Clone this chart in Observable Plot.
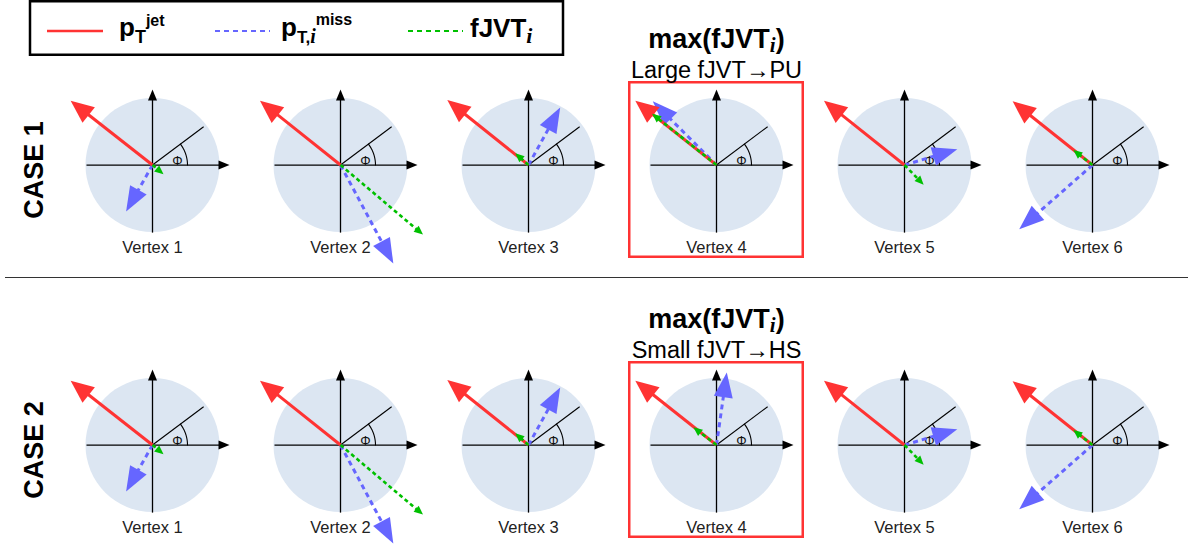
<!DOCTYPE html>
<html><head><meta charset="utf-8">
<script src="https://cdn.jsdelivr.net/npm/d3@7"></script>
<script src="https://cdn.jsdelivr.net/npm/@observablehq/plot@0.6"></script>
<style>body{margin:0;background:#fff} #chart{width:1188px;height:547px}</style>
</head><body><div id="chart"></div>
<script>
// ---------------- data ----------------
const vertexLabels = ["Vertex 1","Vertex 2","Vertex 3","Vertex 4","Vertex 5","Vertex 6"];
const caseLabels = ["CASE 1","CASE 2"];
// vectors in units of the circle radius (x to the right, y upwards), one entry per vertex
const jetX   = [-1.24, -1.22, -1.23, -1.23, -1.22, -1.21];
const jetY   = [ 0.98,  0.98,  0.99,  0.98,  0.98,  0.97];
const missX1 = [-0.40,  0.80,  0.48, -0.965, 0.80, -1.11];
const missY1 = [-0.71, -1.50,  0.875, 0.97,  0.24, -0.98];
const fjvtX1 = [ 0.167, 1.25, -0.20, -0.975, 0.29, -0.29];
const fjvtY1 = [-0.141,-1.06,  0.18,  0.78, -0.30,  0.23];
const missX2 = [-0.40,  0.80,  0.48,  0.156, 0.80, -1.11];
const missY2 = [-0.71, -1.50,  0.875, 1.106, 0.24, -0.98];
const fjvtX2 = [ 0.167, 1.25, -0.20, -0.35,  0.29, -0.29];
const fjvtY2 = [-0.141,-1.06,  0.18,  0.27, -0.30,  0.23];
const selectedVertex = 4;
const titleText = "max(fJVTi)";
const subtitles = ["Large fJVT\u2192PU", "Small fJVT\u2192HS"];
const phiLabel = "\u03A6";
const phiDeg = 37;
const legendNames = ["jet", "miss", "fjvt"];

// ---------------- styles / layout ----------------
const RED = "#ff3333", BLUE = "#6666ff", GREEN = "#00c000", DISC = "#dce6f2";
const W = 1188, H = 547;
const mL = 63, mR = 7, mT = 80, mB = 8;
const PX = 66; // pixels per unit
const xDom = [-88 / PX, 88 / PX];
const yDom = [-94 / PX, 84 / PX];
const heads = {jet: [23, 20], miss: [25, 19], fjvt: [9, 8], axis: [11, 9]};
function headSymbol(L, Wd) {
  return {draw(ctx) { ctx.moveTo(0, 0); ctx.lineTo(Wd / 2, L); ctx.lineTo(-Wd / 2, L); ctx.closePath(); }};
}

const panels = [];
caseLabels.forEach((cl, ci) => vertexLabels.forEach((vl, vi) => panels.push({c: ci + 1, v: vi + 1, vertex: vl, caseLabel: cl})));

const vectors = [];
const series = {1: {miss: [missX1, missY1], fjvt: [fjvtX1, fjvtY1]}, 2: {miss: [missX2, missY2], fjvt: [fjvtX2, fjvtY2]}};
for (const p of panels) {
  const i = p.v - 1;
  const comps = {jet: [jetX[i], jetY[i]], miss: [series[p.c].miss[0][i], series[p.c].miss[1][i]], fjvt: [series[p.c].fjvt[0][i], series[p.c].fjvt[1][i]]};
  for (const k of legendNames) {
    const [dx, dy] = comps[k];
    const len = Math.hypot(dx, dy);
    const back = heads[k][0] / PX;
    vectors.push({c: p.c, v: p.v, kind: k, dx, dy,
      sx: dx - back * 0.9 * dx / len, sy: dy - back * 0.9 * dy / len,
      rot: Math.atan2(dx, dy) * 180 / Math.PI});
  }
}
const arcPts = [];
for (const p of panels) for (let a = 0; a <= phiDeg; a += 1) arcPts.push({c: p.c, v: p.v, key: p.c + "-" + p.v, x: 0.53 * Math.cos(a * Math.PI / 180), y: 0.53 * Math.sin(a * Math.PI / 180)});
const sel = panels.filter(p => p.v === selectedVertex).map(p => ({...p, sub: subtitles[p.c - 1]}));
const caseRows = panels.filter(p => p.v === 1);

const F = {fx: "v", fy: "c"};
const vec = k => vectors.filter(d => d.kind === k);
const hx = 1.167, vy = 1.152;

const plot = Plot.plot({
  width: W, height: H,
  marginLeft: mL, marginRight: mR, marginTop: mT, marginBottom: mB,
  style: {fontFamily: "Liberation Sans, Arial, sans-serif", background: "white", color: "black"},
  fx: {axis: null, paddingInner: 0.0658, paddingOuter: 0, domain: [1,2,3,4,5,6]},
  fy: {axis: null, paddingInner: 0.3665, paddingOuter: 0, domain: [1,2]},
  x: {axis: null, domain: xDom},
  y: {axis: null, domain: yDom},
  marks: [
    Plot.dot(panels, {...F, x: 0, y: 0, r: 67, fill: DISC, stroke: "none"}),
    Plot.link(panels, {...F, x1: -1.0, y1: 0, x2: hx - 10 / PX, y2: 0, stroke: "black", strokeWidth: 1.3}),
    Plot.link(panels, {...F, x1: 0, y1: -1.03, x2: 0, y2: vy - 10 / PX, stroke: "black", strokeWidth: 1.3}),
    Plot.dot(panels, {...F, x: hx, y: 0, symbol: headSymbol(...heads.axis), rotate: 90, fill: "black", stroke: "none", r: 5}),
    Plot.dot(panels, {...F, x: 0, y: vy, symbol: headSymbol(...heads.axis), rotate: 0, fill: "black", stroke: "none", r: 5}),
    Plot.link(panels, {...F, x1: 0, y1: 0, x2: 0.97 * Math.cos(phiDeg * Math.PI / 180), y2: 0.97 * Math.sin(phiDeg * Math.PI / 180), stroke: "black", strokeWidth: 1.1}),
    Plot.line(arcPts, {...F, x: "x", y: "y", z: "key", stroke: "black", strokeWidth: 1.1}),
    Plot.text(panels, {...F, x: 0.379, y: 0.071, text: () => phiLabel, fontSize: 13, fill: "#111"}),
    Plot.link(vec("miss"), {...F, x1: 0, y1: 0, x2: "sx", y2: "sy", stroke: BLUE, strokeWidth: 3, strokeDasharray: "5,4"}),
    Plot.dot(vec("miss"), {...F, x: "dx", y: "dy", rotate: "rot", symbol: headSymbol(...heads.miss), fill: BLUE, stroke: "none", r: 5}),
    Plot.link(vec("jet"), {...F, x1: 0, y1: 0, x2: "sx", y2: "sy", stroke: RED, strokeWidth: 3}),
    Plot.dot(vec("jet"), {...F, x: "dx", y: "dy", rotate: "rot", symbol: headSymbol(...heads.jet), fill: RED, stroke: "none", r: 5}),
    Plot.link(vec("fjvt"), {...F, x1: 0, y1: 0, x2: "sx", y2: "sy", stroke: GREEN, strokeWidth: 2.6, strokeDasharray: "4,3"}),
    Plot.dot(vec("fjvt"), {...F, x: "dx", y: "dy", rotate: "rot", symbol: headSymbol(...heads.fjvt), fill: GREEN, stroke: "none", r: 5}),
    Plot.text(panels, {...F, text: "vertex", frameAnchor: "bottom", lineAnchor: "middle", dy: -11, fontSize: 16.5, fill: "#222"}),
    Plot.text(caseRows, {...F, text: "caseLabel", frameAnchor: "left", textAnchor: "middle", lineAnchor: "middle", rotate: -90, dx: -30, fontSize: 27, fontWeight: "bold", fill: "black"}),
    Plot.rect(sel, {...F, x1: xDom[0], x2: xDom[1], y1: yDom[0], y2: yDom[1], inset: 1.25, fill: "none", stroke: RED, strokeWidth: 2.5}),
    Plot.text(sel, {...F, text: () => titleText, frameAnchor: "top", lineAnchor: "middle", dy: -42, fontSize: 27, fontWeight: "bold", fill: "black"}),
    Plot.text(sel, {...F, text: "sub", frameAnchor: "top", lineAnchor: "middle", dy: -11, fontSize: 23.5, fill: "black"})
  ]
});
document.getElementById("chart").appendChild(plot);

// rich text for the titles
const root = d3.select(plot);
root.selectAll("text").filter(function() { return this.textContent === titleText; }).each(function() {
  const t = d3.select(this); t.text(null);
  t.append("tspan").text("max(fJVT");
  t.append("tspan").text("i").attr("dy", 4).attr("font-size", 21).attr("font-style", "italic").attr("font-family", "Liberation Serif, DejaVu Serif, serif");
  t.append("tspan").text(")").attr("dy", -4);
});

// separator and legend
root.append("line").attr("x1", 5).attr("x2", W).attr("y1", 277.5).attr("y2", 277.5).attr("stroke", "#333").attr("stroke-width", 1);
const lg = root.append("g").attr("text-anchor", "start");
lg.append("rect").attr("x", 30).attr("y", 1.25).attr("width", 533).attr("height", 53.5).attr("fill", "white").attr("stroke", "black").attr("stroke-width", 2.5);
const legStyle = {jet: [RED, null, 2.6, 47, 103], miss: [BLUE, "5,4", 2.2, 215, 270], fjvt: [GREEN, "5,4", 2.2, 408, 463]};
for (const k of legendNames) {
  const [c, da, w, a, b] = legStyle[k];
  const l = lg.append("line").attr("x1", a).attr("x2", b).attr("y1", 31).attr("y2", 31).attr("stroke", c).attr("stroke-width", w);
  if (da) l.attr("stroke-dasharray", da);
}
function rich(x, y, parts) {
  const t = lg.append("text").attr("x", x).attr("y", y).attr("text-anchor", "start").attr("font-weight", "bold").attr("font-size", 26).attr("fill", "black");
  for (const p of parts) {
    const s = t.append("tspan").text(p.t);
    if (p.size) s.attr("font-size", p.size);
    if (p.y != null) s.attr("y", p.y);
    if (p.italic) s.attr("font-style", "italic").attr("font-family", "Liberation Serif, DejaVu Serif, serif");
  }
}
rich(119, 36, [{t: "p"}, {t: "T", size: 18, y: 43}, {t: "jet", size: 16, y: 26}]);
rich(281, 36, [{t: "p"}, {t: "T,", size: 17, y: 43}, {t: "i", size: 20, y: 43, italic: true}, {t: "miss", size: 16, y: 25}]);
rich(470, 37, [{t: "fJVT"}, {t: "i", size: 22, y: 43, italic: true}]);
</script></body></html>
